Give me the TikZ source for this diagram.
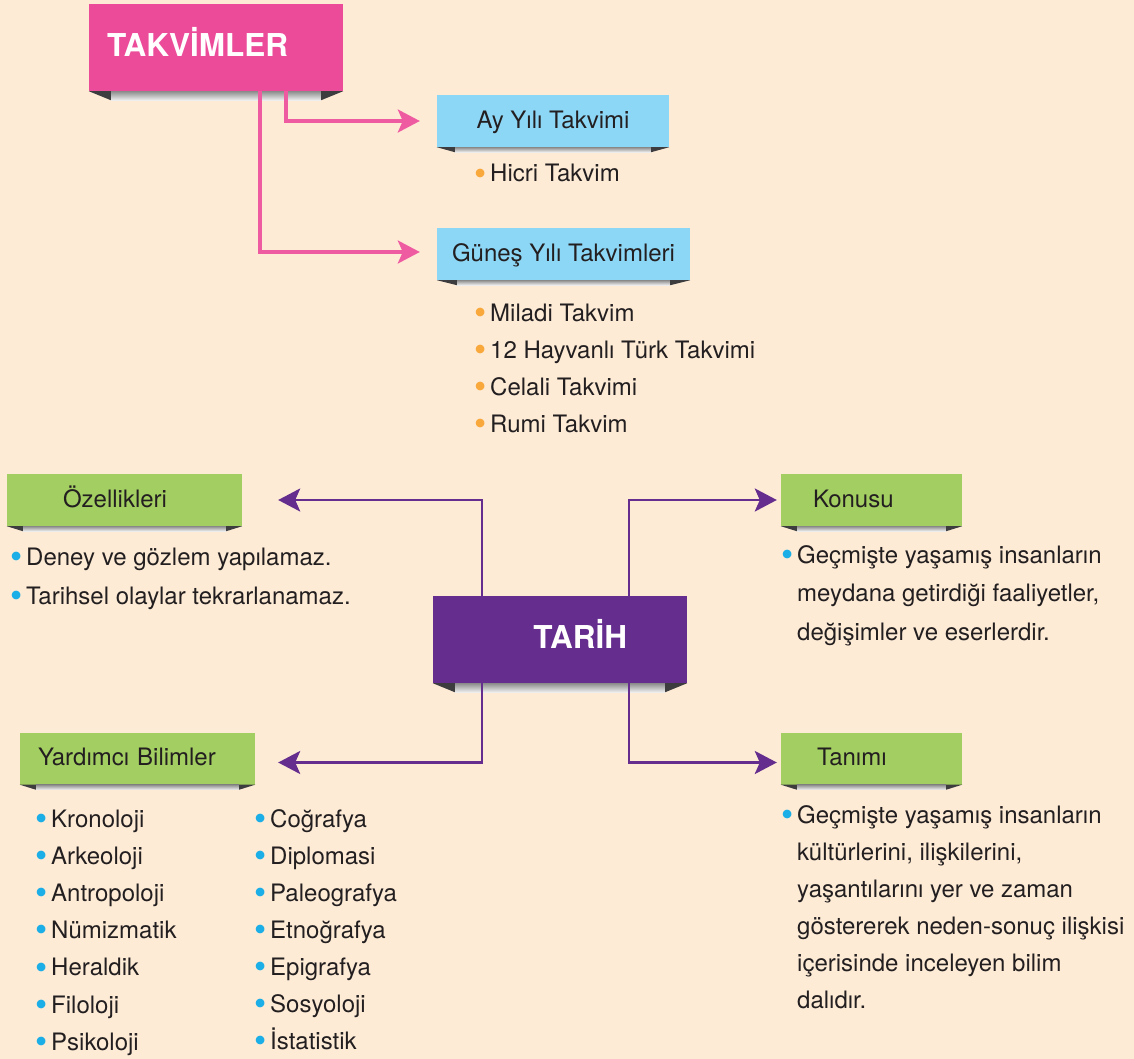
\documentclass[tikz,border=0pt]{standalone}
\usepackage{graphicx}
\usepackage{fontspec}
\setmainfont{TeX Gyre Heros}
\usetikzlibrary{
    arrows.meta
}

\definecolor{paper}{HTML}{FDEBD6}
\definecolor{ink}{HTML}{231F20}
\definecolor{takvimpink}{HTML}{EC4B9A}
\definecolor{linkpink}{HTML}{EF5BA1}
\definecolor{tarihpurple}{HTML}{652D8E}
\definecolor{skyblue}{HTML}{8DD7F6}
\definecolor{leafgreen}{HTML}{A3CE62}
\definecolor{dotorange}{HTML}{F9A83C}
\definecolor{dotblue}{HTML}{1CAEE6}
\definecolor{flapgray}{HTML}{3D3D3F}

\newcommand{\madde}[1]{%
    \llap{\textcolor{#1}{\raisebox{-3.3pt}{\scalebox{1.45}{\textbullet}}}\hspace{4pt}}%
}
\newcommand{\ribbon}[3]{%
    \shade[
        top color=black!45,
        bottom color=black!6
    ]
        ([xshift=#3]#1.south west) rectangle
        ([xshift=-#3,yshift=-#2]#1.south east);
    \fill[flapgray]
        (#1.south west) --
        ([xshift=#3]#1.south west) --
        ([xshift=#3,yshift=-#2]#1.south west) -- cycle;
    \fill[flapgray]
        (#1.south east) --
        ([xshift=-#3]#1.south east) --
        ([xshift=-#3,yshift=-#2]#1.south east) -- cycle;
}

\begin{document}
\begin{tikzpicture}[
    x=1pt,
    y=-1pt,
    header/.style={
        rectangle,
        text=white,
        font=\bfseries\fontsize{31.5}{36}\selectfont,
        minimum width=254pt,
        minimum height=87pt,
        inner ysep=0pt,
        text height=23pt,
        text depth=5.6pt
    },
    topic/.style={
        rectangle,
        text=ink,
        font=\fontsize{24}{28}\selectfont,
        minimum height=52pt,
        inner ysep=0pt,
        text height=19pt,
        text depth=4.6pt
    },
    % lists sit on the baseline of their last line
    items/.style={
        anchor=base west,
        align=left,
        inner sep=0pt,
        text=ink,
        font=\fontsize{24}{37.2}\selectfont
    },
    link/.style={
        -{Stealth[length=22pt,width=23pt,inset=5pt]},
        line width=2.8pt
    }
]

\fill[paper, use as bounding box] (0,0) rectangle (1134,1059);

% calendars

\node[
    header,
    fill=takvimpink,
    align=left,
    text width=218pt,
    inner xsep=18pt
] (takvimler) at (216,47.5) {
    TAKVİMLER
};

\node[topic, fill=skyblue, minimum width=232pt] (ayyili) at (553,121) {
    Ay Yılı Takvimi
};

\node[items] (hicri) at (490,182) {
    \madde{dotorange}Hicri Takvim
};

\node[topic, fill=skyblue, minimum width=253pt] (gunes) at (563.5,254) {
    Güneş Yılı Takvimleri
};

\node[items] (gunesliste) at (490,432.6) {
    \madde{dotorange}Miladi Takvim\\
    \madde{dotorange}12 Hayvanlı Türk Takvimi\\
    \madde{dotorange}Celali Takvimi\\
    \madde{dotorange}Rumi Takvim
};

% history

\node[
    header,
    fill=tarihpurple,
    align=right,
    text width=134pt,
    inner xsep=60pt
] (tarih) at (560,639.5) {
    TARİH
};

\node[
    topic,
    fill=leafgreen,
    align=left,
    text width=123pt,
    inner xsep=56pt
] (ozellik) at (124.5,500) {
    Özellikleri
};

\node[
    items,
    font=\fontsize{24}{38.5}\selectfont
] (ozellikliste) at (26,604) {
    \madde{dotblue}Deney ve gözlem yapılamaz.\\
    \madde{dotblue}Tarihsel olaylar tekrarlanamaz.
};

\node[
    topic,
    fill=leafgreen,
    align=left,
    text width=117pt,
    inner xsep=32pt
] (konusu) at (871.5,500) {
    Konusu
};

\node[
    items,
    font=\fontsize{24}{38.5}\selectfont
] (konusumetin) at (797,640) {
    \madde{dotblue}Geçmişte yaşamış insanların\\
    meydana getirdiği faaliyetler,\\
    değişimler ve eserlerdir.
};

\node[
    topic,
    fill=leafgreen,
    align=left,
    text width=199pt,
    inner xsep=18pt
] (yardimci) at (137.5,758.5) {
    Yardımcı Bilimler
};

\node[items] (bilimsol) at (51,1050.2) {
    \madde{dotblue}Kronoloji\\
    \madde{dotblue}Arkeoloji\\
    \madde{dotblue}Antropoloji\\
    \madde{dotblue}Nümizmatik\\
    \madde{dotblue}Heraldik\\
    \madde{dotblue}Filoloji\\
    \madde{dotblue}Psikoloji
};

\node[
    items,
    font=\fontsize{24}{37}\selectfont
] (bilimsag) at (270,1049) {
    \madde{dotblue}Coğrafya\\
    \madde{dotblue}Diplomasi\\
    \madde{dotblue}Paleografya\\
    \madde{dotblue}Etnoğrafya\\
    \madde{dotblue}Epigrafya\\
    \madde{dotblue}Sosyoloji\\
    \madde{dotblue}İstatistik
};

\node[
    topic,
    fill=leafgreen,
    align=left,
    text width=109pt,
    inner xsep=36pt
] (tanimi) at (871.5,758.5) {
    Tanımı
};

\node[
    items,
    font=\fontsize{24}{37.1}\selectfont
] (tanimmetin) at (797,1008.5) {
    \madde{dotblue}Geçmişte yaşamış insanların\\
    kültürlerini, ilişkilerini,\\
    yaşantılarını yer ve zaman\\
    göstererek neden-sonuç ilişkisi\\
    içerisinde inceleyen bilim\\
    dalıdır.
};

% ribbons under the boxes

\ribbon{takvimler}{9pt}{22pt}
\ribbon{ayyili}{5pt}{18pt}
\ribbon{gunes}{5pt}{20pt}
\ribbon{tarih}{9pt}{22pt}
\ribbon{ozellik}{5pt}{16pt}
\ribbon{konusu}{5pt}{16pt}
\ribbon{yardimci}{5pt}{16pt}
\ribbon{tanimi}{5pt}{16pt}

% calendar links

\draw[link, linkpink, line width=3.2pt, shorten >=17pt]
    ([xshift=70pt]takvimler.south)
    |- (ayyili.west);

\draw[link, linkpink, line width=3.2pt, shorten >=17pt]
    ([xshift=44pt]takvimler.south)
    |- ([yshift=2pt]gunes.west);

% history links

\draw[link, tarihpurple, shorten >=36pt]
    ([xshift=-78pt]tarih.north)
    |- (ozellik.east);

\draw[link, tarihpurple, shorten >=4pt]
    ([xshift=69pt]tarih.north)
    |- (konusu.west);

\draw[link, tarihpurple, shorten >=23pt]
    ([xshift=-78pt]tarih.south)
    |- ([yshift=-4pt]yardimci.east);

\draw[link, tarihpurple, shorten >=4pt]
    ([xshift=69pt]tarih.south)
    |- ([yshift=-4pt]tanimi.west);

\end{tikzpicture}
\end{document}
